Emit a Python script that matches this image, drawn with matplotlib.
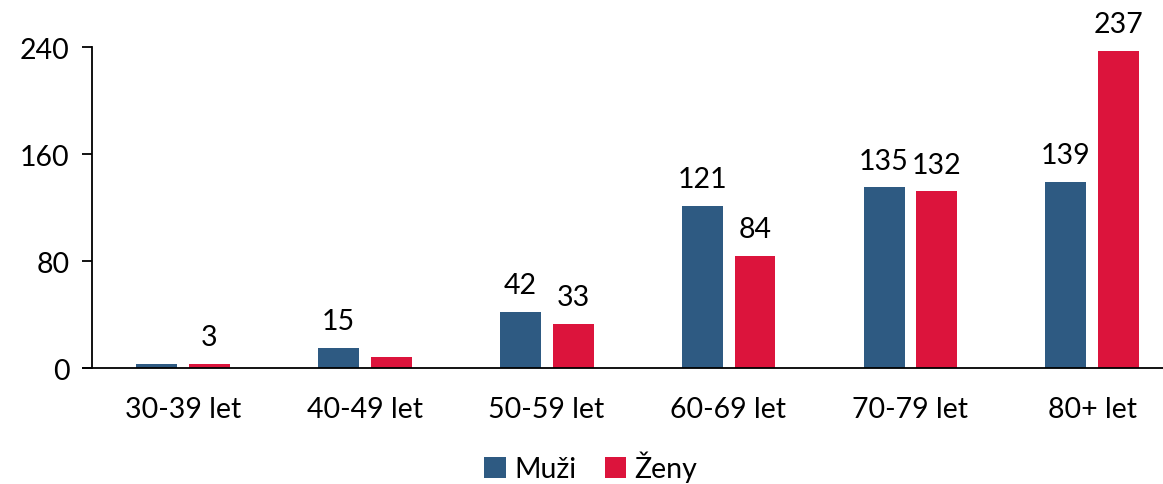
import matplotlib.pyplot as plt
import numpy as np

categories = ["30-39 let", "40-49 let", "50-59 let", "60-69 let", "70-79 let", "80+ let"]
muzi = [3, 15, 42, 121, 135, 139]
zeny = [3, 8, 33, 84, 132, 237]
# which values carry a label in the original
muzi_labels = [None, "15", "42", "121", "135", "139"]
zeny_labels = ["3", None, "33", "84", "132", "237"]

blue = "#2E5A82"
red = "#DC143C"

plt.rcParams["font.family"] = ["Lato", "DejaVu Sans"]

fig = plt.figure(figsize=(11.63, 4.85), dpi=100)
ax = fig.add_axes([0.0791, 0.239, 0.9209, 0.662])

x = np.arange(len(categories))
w = 0.225
b1 = ax.bar(x - 0.144, muzi, w, color=blue, label="Muži")
b2 = ax.bar(x + 0.146, zeny, w, color=red, label="Ženy")

fs = 20.5
for bars, labels in ((b1, muzi_labels), (b2, zeny_labels)):
    for rect, lab in zip(bars, labels):
        if lab is None:
            continue
        ax.annotate(lab, (rect.get_x() + rect.get_width() / 2, rect.get_height()),
                    xytext=(0, 10), textcoords="offset points",
                    ha="center", va="bottom", fontsize=fs)

ax.set_xlim(-0.5, 5.39)
ax.set_ylim(0, 240)
ax.set_yticks([0, 80, 160, 240])
ax.set_xticks(x)
ax.set_xticklabels(categories)
ax.tick_params(axis="y", labelsize=fs, length=7, width=1.3, pad=9)
ax.tick_params(axis="x", labelsize=fs, length=0, pad=20)

for s in ("top", "right"):
    ax.spines[s].set_visible(False)
ax.spines["left"].set_linewidth(1.3)
ax.spines["bottom"].set_linewidth(1.3)
ax.spines["bottom"].set_bounds(-0.5 - 9 / 181.8, 5.39)
ax.spines["bottom"].set_clip_on(False)

fig.legend(handles=[b1, b2], loc="center", bbox_to_anchor=(0.508, 0.036),
           ncol=2, frameon=False, fontsize=fs, handlelength=0.75, handleheight=0.75,
           handletextpad=0.3, columnspacing=1.0)

fig.savefig("out.png", dpi=100)
